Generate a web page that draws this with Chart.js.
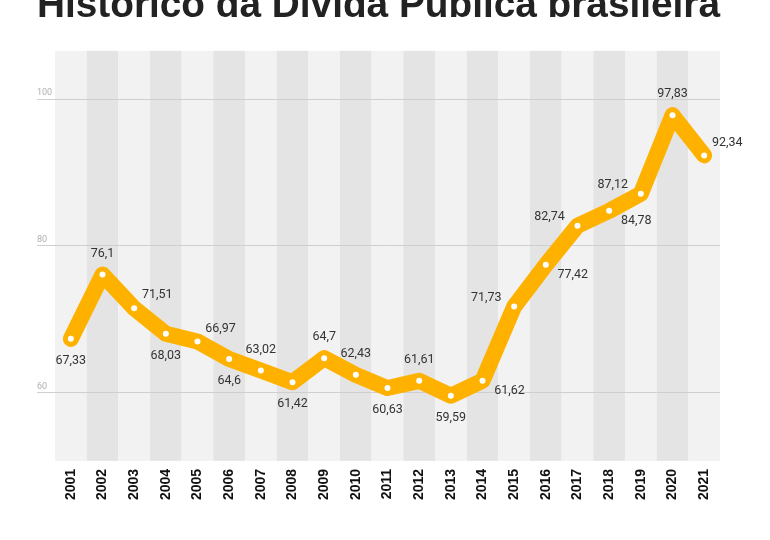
<!DOCTYPE html>
<html>
<head>
<meta charset="utf-8">
<script src="https://cdn.jsdelivr.net/npm/chart.js@4/dist/chart.umd.min.js"></script>
<style>
  html, body { margin: 0; padding: 0; background: #fff; }
  #wrap { width: 770px; height: 540px; }
</style>
</head>
<body>
<div id="wrap"><canvas id="chart" width="770" height="540"></canvas></div>
<script>
  const years = ["2001", "2002", "2003", "2004", "2005", "2006", "2007", "2008", "2009", "2010", "2011",
    "2012", "2013", "2014", "2015", "2016", "2017", "2018", "2019", "2020", "2021"];
  const debt = [67.33, 76.1, 71.51, 68.03, 66.97, 64.6, 63.02, 61.42, 64.7, 62.43, 60.63,
    61.61, 59.59, 61.62, 71.73, 77.42, 82.74, 84.78, 87.12, 97.83, 92.34];
  const yTicks = [60, 80, 100];

  // onde fica cada rótulo em relação ao ponto
  const labelPos = ["b", "t", "tr", "b", "tr", "b", "t", "b", "t", "t", "b",
    "t", "b", "br", "tl", "br", "tl", "br", "tl", "t", "tr"];
  const offsets = {
    t: [0, -21],
    b: [0, 22],
    tr: [23, -13],
    br: [27, 10],
    tl: [-28, -9],
  };

  // faixas verticais alternadas atrás do gráfico (antes das linhas de grade)
  const bandsPlugin = {
    id: "bands",
    beforeDraw(chart) {
      const { ctx, chartArea, scales } = chart;
      const x = scales.x;
      const step = x.getPixelForValue(1) - x.getPixelForValue(0);
      ctx.save();
      years.forEach((_, i) => {
        const cx = x.getPixelForValue(i);
        ctx.fillStyle = i % 2 === 0 ? "#f2f2f2" : "#e4e4e4";
        ctx.fillRect(cx - step / 2, chartArea.top, step, chartArea.bottom - chartArea.top);
      });
      ctx.restore();
    },
  };

  const valueLabels = {
    id: "valueLabels",
    afterDatasetsDraw(chart) {
      const { ctx } = chart;
      const meta = chart.getDatasetMeta(0);
      ctx.save();
      ctx.font = "12.5px Roboto, 'Liberation Sans', sans-serif";
      ctx.fillStyle = "#333333";
      ctx.textAlign = "center";
      ctx.textBaseline = "middle";
      meta.data.forEach((pt, i) => {
        const off = offsets[labelPos[i]];
        const txt = debt[i].toString().replace(".", ",");
        ctx.fillText(txt, pt.x + off[0], pt.y + off[1]);
      });
      ctx.restore();
    },
  };

  new Chart(document.getElementById("chart"), {
    type: "line",
    data: {
      labels: years,
      datasets: [
        {
          data: debt,
          borderColor: "#ffb100",
          borderWidth: 16,
          borderJoinStyle: "round",
          borderCapStyle: "round",
          tension: 0,
          fill: false,
          pointRadius: 3,
          pointBackgroundColor: "#ffffff",
          pointBorderWidth: 0,
        },
      ],
    },
    options: {
      responsive: false,
      animation: false,
      layout: { padding: { left: 37, right: 50, bottom: 32, top: 0 } },
      plugins: {
        legend: { display: false },
        tooltip: { enabled: false },
        title: {
          display: true,
          text: "Histórico da Dívida Pública brasileira",
          color: "#222222",
          font: { family: "'Liberation Sans', Arial, sans-serif", size: 39, weight: "bold" },
          padding: { top: -17, bottom: 21 },
        },
      },
      scales: {
        x: {
          offset: true,
          grid: { display: false, drawTicks: false },
          border: { display: false },
          ticks: {
            minRotation: 90,
            maxRotation: 90,
            padding: 8,
            color: "#111111",
            font: { family: "'Liberation Sans', Arial, sans-serif", size: 14, weight: "bold" },
          },
        },
        y: {
          min: 50.7,
          max: 106.6,
          afterBuildTicks(scale) {
            scale.ticks = yTicks.map((v) => ({ value: v }));
          },
          afterFit(scale) {
            scale.width = 18;
          },
          grid: { color: "#cfcfcf", lineWidth: 1, drawTicks: true, tickLength: 18 },
          border: { display: false },
          ticks: {
            crossAlign: "far",
            padding: 0,
            labelOffset: -6,
            color: "#b0b0b0",
            font: { family: "Roboto, sans-serif", size: 9 },
          },
        },
      },
    },
    plugins: [bandsPlugin, valueLabels],
  });
</script>
</body>
</html>
